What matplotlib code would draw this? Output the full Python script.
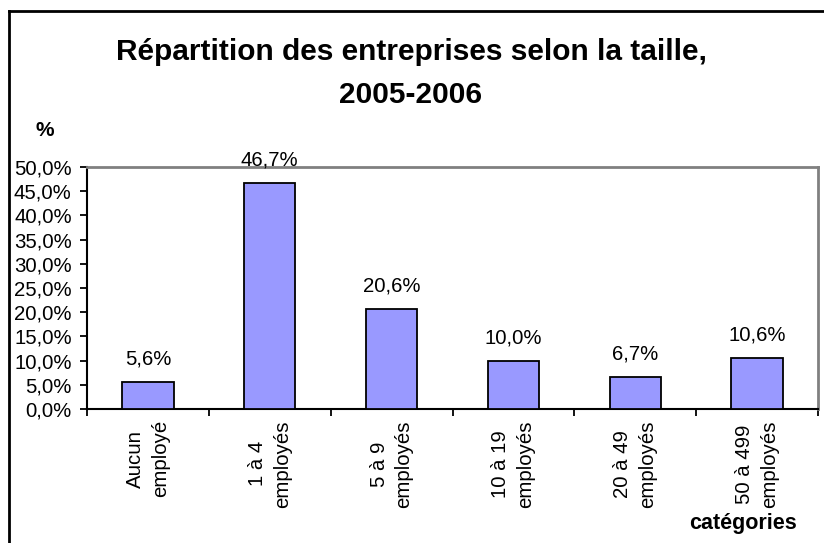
import matplotlib
matplotlib.use("Agg")
import matplotlib.pyplot as plt
from matplotlib.lines import Line2D

categories = ["Aucun\nemployé", "1 à 4\nemployés", "5 à 9\nemployés",
              "10 à 19\nemployés", "20 à 49\nemployés", "50 à 499\nemployés"]
values = [5.6, 46.7, 20.6, 10.0, 6.7, 10.6]
yticks = [0, 5, 10, 15, 20, 25, 30, 35, 40, 45, 50]

plt.rcParams['font.family'] = ['Liberation Sans', 'DejaVu Sans']

W, H = 824, 543
FS = 14.7
fig = plt.figure(figsize=(W/100, H/100), dpi=100)
ax = fig.add_axes([87/W, 1 - 409/H, (818-87)/W, (409-167)/H])

x = list(range(len(values)))
ax.bar(x, values, width=0.42, color='#9999FF', edgecolor='black', linewidth=1.3, zorder=3)
for xi, v in zip(x, values):
    ax.text(xi, v + 3.6, f"{v:.1f}%".replace('.', ','), ha='center', va='baseline', fontsize=FS)

ax.set_xlim(-0.5, len(values) - 0.5)
ax.set_ylim(0, 50)
ax.set_yticks(yticks)
ax.set_yticklabels([f"{t:.1f}%".replace('.', ',') for t in yticks], fontsize=FS)
ax.set_xticks([i + 0.5 for i in range(-1, len(values))], minor=False)
ax.set_xticklabels([])
ax.set_xticks(x, minor=True)
ax.set_xticklabels(categories, minor=True, rotation=90, fontsize=FS,
                   ha='center', va='top', multialignment='center', linespacing=1.4)
ax.tick_params(axis='x', which='minor', length=0, pad=8)
ax.tick_params(axis='x', which='major', length=5, width=1.3, direction='out')
ax.tick_params(axis='y', length=5, width=1.3, direction='out', pad=6)

for s in ['left', 'bottom']:
    ax.spines[s].set_color('black')
    ax.spines[s].set_linewidth(1.5)
for s in ['top', 'right']:
    ax.spines[s].set_color('#808080')
    ax.spines[s].set_linewidth(2)

fig.text(411/W, 1 - 52/H, "Répartition des entreprises selon la taille,", ha='center', va='center',
         fontsize=21.5, fontweight='bold')
fig.text(411/W, 1 - 95/H, "2005-2006", ha='center', va='center', fontsize=21.5, fontweight='bold')
fig.text(45/W, 1 - 131/H, "%", ha='center', va='center', fontsize=15, fontweight='bold')
fig.text(743/W, 1 - 523/H, "catégories", ha='center', va='center', fontsize=15.5, fontweight='bold')

fig.add_artist(Line2D([9/W, 9/W], [0, 1 - 11/H], transform=fig.transFigure, color='black', lw=2))
fig.add_artist(Line2D([9/W, 1], [1 - 11/H, 1 - 11/H], transform=fig.transFigure, color='black', lw=2))

fig.savefig("out.png", dpi=100)
